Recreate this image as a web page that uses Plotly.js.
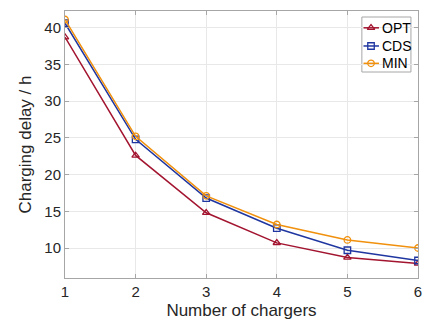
<!DOCTYPE html>
<html><head><meta charset="utf-8">
<script src="https://cdn.plot.ly/plotly-3.0.1.min.js"></script>
<style>html,body{margin:0;padding:0;background:#fff}#plot{width:427px;height:325px}</style>
</head><body><div id="plot"></div>
<script>
const chargers = [1, 2, 3, 4, 5, 6];
const optDelay = [38.7, 22.6, 14.8, 10.7, 8.7, 7.9];
const cdsDelay = [40.6, 24.8, 16.8, 12.7, 9.7, 8.3];
const minDelay = [41.1, 25.2, 17.1, 13.2, 11.1, 10.0];
const xTicks = [1, 2, 3, 4, 5, 6];
const yTicks = [10, 15, 20, 25, 30, 35, 40];
const seriesNames = ['OPT', 'CDS', 'MIN'];
const seriesColors = ['#A2142F', '#1F36A0', '#F0900C'];
const seriesSymbols = ['triangle-up-open', 'square-open', 'circle-open'];
const seriesValues = [optDelay, cdsDelay, minDelay];

const data = [];
seriesNames.forEach((name, i) => {
  data.push({x: chargers, y: seriesValues[i], name: name, type: 'scatter', mode: 'lines+markers',
    showlegend: false,
    line: {color: seriesColors[i], width: 1.5},
    marker: {symbol: seriesSymbols[i], size: 6.5, color: seriesColors[i], line: {color: seriesColors[i], width: 1.3}}});
});
// compact MATLAB-style legend drawn on an overlay axis in plot-fraction units
const legRowY = [0.937, 0.869, 0.804];
const legLineX = [0.8456, 0.8895];
const legMarkX = 0.8669;
const legTextX = 0.8924;
seriesNames.forEach((name, i) => {
  data.push({x: legLineX, y: [legRowY[i], legRowY[i]], xaxis: 'x2', yaxis: 'y2', mode: 'lines',
    showlegend: false, hoverinfo: 'skip', cliponaxis: false,
    line: {color: seriesColors[i], width: 1.5}});
  data.push({x: [legMarkX], y: [legRowY[i]], xaxis: 'x2', yaxis: 'y2', mode: 'markers',
    showlegend: false, hoverinfo: 'skip', cliponaxis: false,
    marker: {symbol: seriesSymbols[i], size: 6.5, color: seriesColors[i], line: {color: seriesColors[i], width: 1.3}}});
});
const annotations = seriesNames.map((name, i) => ({
  xref: 'paper', yref: 'paper', x: legTextX, y: legRowY[i], xanchor: 'left', yanchor: 'middle',
  text: name, showarrow: false,
  font: {family: 'Liberation Sans, Arial, sans-serif', size: 14, color: '#000'}
}));
const axisCommon = {
  showline: true, linecolor: '#A6A6A6', linewidth: 1, mirror: 'ticks',
  ticks: 'inside', ticklen: 4, tickcolor: '#A6A6A6', tickwidth: 1,
  showgrid: true, gridcolor: '#E8E8E8', gridwidth: 1, zeroline: false,
  tickfont: {family: 'Liberation Sans, Arial, sans-serif', size: 15, color: '#262626'}
};
const layout = {
  width: 427, height: 325,
  margin: {l: 65, r: 9, t: 11, b: 47},
  paper_bgcolor: '#fff', plot_bgcolor: '#fff',
  showlegend: false,
  font: {family: 'Liberation Sans, Arial, sans-serif', color: '#262626'},
  xaxis: Object.assign({}, axisCommon, {
    range: [1, 6], tickvals: xTicks, ticktext: xTicks.map(String),
    title: {text: 'Number of chargers', font: {size: 17, color: '#262626'}, standoff: 5}
  }),
  yaxis: Object.assign({}, axisCommon, {
    range: [5.92, 42.26], tickvals: yTicks, ticktext: yTicks.map(String),
    title: {text: 'Charging delay / h', font: {size: 17, color: '#262626'}, standoff: 8}
  }),
  xaxis2: {overlaying: 'x', range: [0, 1], visible: false, fixedrange: true},
  yaxis2: {overlaying: 'y', range: [0, 1], visible: false, fixedrange: true},
  shapes: [{type: 'rect', xref: 'paper', yref: 'paper', x0: 0.841, x1: 0.980, y0: 0.7715, y1: 0.9775,
    layer: 'between', fillcolor: '#fff', line: {color: '#A6A6A6', width: 1}}],
  annotations: annotations
};
Plotly.newPlot('plot', data, layout, {displayModeBar: false, staticPlot: true});
</script></body></html>
